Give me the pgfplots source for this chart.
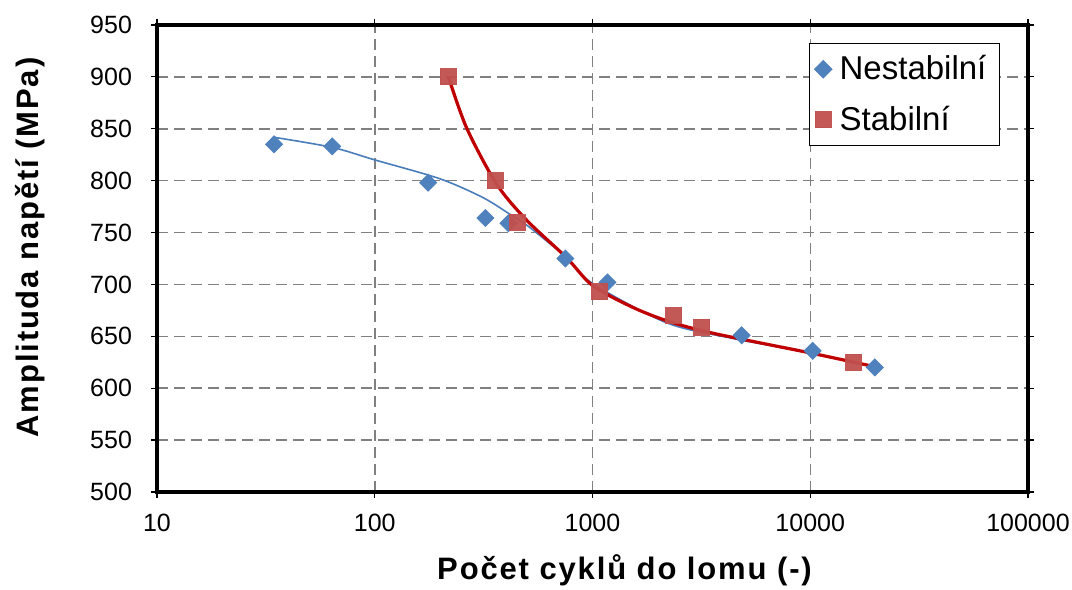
\documentclass[border=0pt]{standalone}
\usepackage{fontspec}
\setmainfont{Liberation Sans}
\newfontfamily\labfont{Liberation Sans}[LetterSpace=6]
\usepackage{pgfplots}
\pgfplotsset{compat=1.18}
\definecolor{blueM}{HTML}{4F81BD}
\definecolor{blueL}{HTML}{4A7EBB}
\definecolor{redM}{HTML}{C0504D}
\definecolor{redL}{HTML}{C00000}
\begin{document}
\begin{tikzpicture}
\begin{axis}[
  scale only axis, width=435.5pt, height=233.5pt,
  xmode=log, log basis x=10,
  xmin=10, xmax=100000, ymin=500, ymax=950,
  xtick={10,100,1000,10000,100000},
  xticklabels={10,100,1000,10000,100000},
  ytick={500,550,...,950},
  /pgf/number format/assume math mode=true,
  ticklabel style={font=\fontsize{12.5}{14}\selectfont},
  yticklabel style={xshift=-6pt},
  xticklabel style={yshift=-4.3pt},
  tick align=outside, major tick length=3pt,
  tick style={black, line width=0.6pt},
  minor tick num=0,
  grid=major,
  major grid style={gray, line width=0.75pt, dash pattern=on 5.5pt off 3pt},
  axis line style={line width=2pt},
  xlabel={\labfont\bfseries Počet cyklů do lomu (-)},
  ylabel={\labfont\bfseries Amplituda napětí (MPa)},
  xlabel style={font=\fontsize{15.5}{17}\selectfont, yshift=-5pt, xshift=16pt},
  ylabel style={font=\fontsize{15.5}{17}\selectfont, yshift=16pt, xshift=5.5pt},
  legend style={at={(rel axis cs:1,1)}, anchor=north east, xshift=-14pt, yshift=-9pt,
    draw=black, line width=0.6pt, font=\fontsize{16.5}{19}\selectfont,
    row sep=7.5pt, inner xsep=2.5pt, inner ysep=4pt,
    nodes={inner xsep=4pt}},
  legend cell align=left,
]
% trend curves
\addplot[blueL, line width=0.8pt, smooth, forget plot] coordinates {
 (34,842) (64,832) (100,820) (198,802) (312,784) (415,768) (500,757) (758,726)
 (1000,701) (2190,663) (4400,648) (10000,634) (19800,620)};
\addplot[redL, line width=1.6pt, smooth, forget plot] coordinates {
 (218,900) (264,851) (362,797) (498,762) (758,726) (1000,699) (1528,678)
 (2190,665) (3100,656) (4400,649) (10000,634) (19500,621)};
% data
\addplot[only marks, mark=square*, mark size=3pt, blueM, mark options={fill=blueM, draw=blueM, rotate=45}] coordinates {
 (34.5,835) (63.8,833) (176,798) (322,764) (411,759) (751,725) (1172,702)
 (4842,651) (10260,636) (19800,620)};
\addlegendentry{Nestabilní}
\addplot[only marks, mark=square*, mark size=4pt, redM, mark options={fill=redM, draw=redM, opacity=0.95}] coordinates {
 (218,900) (358,800) (452,760) (1077,693) (2357,670) (3170,659) (15850,625)};
\addlegendentry{Stabilní}
\end{axis}
\pgfresetboundingbox
\path[use as bounding box] ([shift={(-78.5pt,-49pt)}]current axis.south west) rectangle ([shift={(22pt,12.5pt)}]current axis.north east);
\end{tikzpicture}
\end{document}
